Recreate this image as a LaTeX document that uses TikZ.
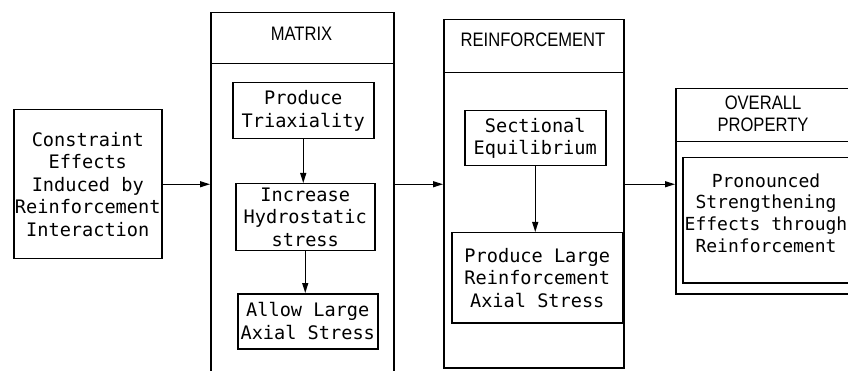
\documentclass[tikz,border=0pt]{standalone}
\usepackage{fontspec}
\newfontfamily\monof{DejaVu Sans Mono}
\newfontfamily\hdrf[FakeStretch=0.85]{Liberation Sans}
\usetikzlibrary{arrows.meta}
\begin{document}
\begin{tikzpicture}[x=1pt,y=-1pt,
  box/.style={draw, line width=1.5pt, inner sep=0pt, anchor=north west},
  sz/.style 2 args={minimum width=#1pt, minimum height=#2pt},
  txt/.style={font=\monof\fontsize{18.6}{22.5}\selectfont, align=center, inner sep=0pt},
  hdr/.style={font=\hdrf\fontsize{19.5}{22}\selectfont, align=center, inner sep=0pt},
  arr/.style={line width=1.3pt, -{Triangle[length=10pt,width=6pt]}}]
\clip (0,0) rectangle (848,371);
% left box
\node[box, txt, sz={148}{149}] (cons) at (13,109) {Constraint\\Effects\\Induced by\\Reinforcement\\Interaction};
% matrix
\node[box, sz={183}{51}] (matH) at (210,12) {};
\node[hdr] (matT) at (301.5,33.5) {MATRIX};
\node[box, sz={183}{330}] (matB) at (210,63) {};
\node[box, txt, sz={141}{56}] (m1) at (232,82) {Produce\\Triaxiality};
\node[box, txt, sz={139}{67}] (m2) at (235,183) {Increase\\Hydrostatic\\stress};
\node[box, txt, sz={140}{55}] (m3) at (237,293) {Allow Large\\Axial Stress};
\draw[arr] (m1.south) -- (m1.south |- m2.north);
\draw[arr] (m2.south) -- (m2.south |- m3.north);
% reinforcement
\node[box, sz={180}{53}] (reH) at (443,19) {};
\node[hdr] (reT) at (533,39.5) {REINFORCEMENT};
\node[box, sz={180}{295}] (reB) at (443,72) {};
\node[box, txt, sz={141}{55}] (r1) at (464,110) {Sectional\\Equilibrium};
\node[box, txt, sz={171}{90}] (r2) at (451,232) {Produce Large\\Reinforcement\\Axial Stress};
\draw[arr] (r1.south) -- (r1.south |- r2.north);
% overall
\node[box, sz={187}{53}] (ovH) at (675,88) {};
\node[hdr] (ovT) at (763,114) {OVERALL\\PROPERTY};
\node[box, sz={187}{152}] (ovB) at (675,141) {};
\node[box, sz={174}{125}] (ovI) at (682,157) {};
\node[txt, font=\monof\fontsize{18}{21.7}\selectfont] (ovX) at (766,213) {Pronounced\\Strengthening\\Effects through\\Reinforcement};
% connectors
\draw[arr] (cons.east) -- (cons.east -| matB.west);
\draw[arr] (matB.east |- cons.east) -- (reB.west |- cons.east);
\draw[arr] (reB.east |- cons.east) -- (ovB.west |- cons.east);
\end{tikzpicture}
\end{document}
